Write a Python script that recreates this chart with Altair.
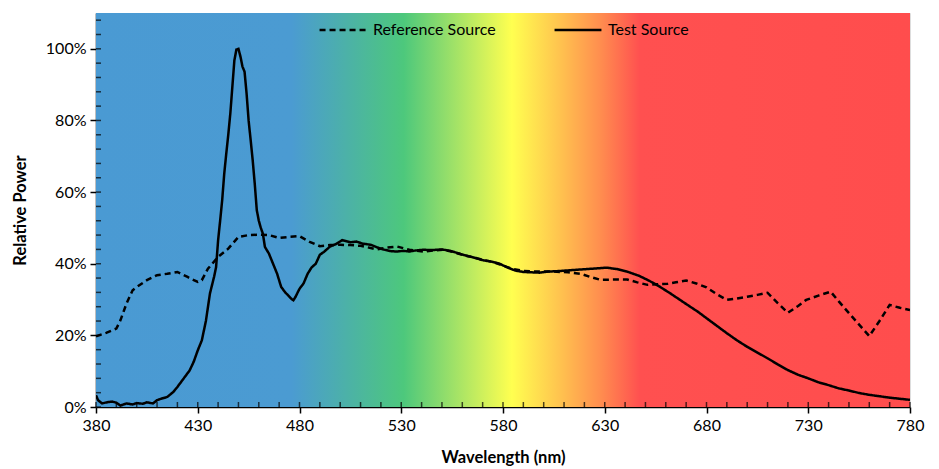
import altair as alt
import pandas as pd

# ---- data ----
test_wl = [380,381,383,386,388,390,392,395,398,400,403,405,408,410,412,415,418,420,423,426,
           428,430,432,434,436,438,439,440,441,442,443,444,445,446,447,448,449,450,451,452,
           453,454,455,456,457,458,459,460,461,462,463,465,467,469,471,473,476,477,478,480,
           482,484,486,488,490,492,495,498,501,505,508,511,515,518,521,525,528,531,534,537,
           541,545,550,554,557,561,564,567,570,574,578,582,586,590,594,598,602,606,611,616,
           621,626,631,636,641,644,647,652,657,662,667,672,676,680,685,690,695,700,705,710,
           715,720,725,730,735,740,745,750,755,760,765,770,775,780]
test_pw = [3.3,1.9,1.0,1.4,1.5,1.2,0.4,1.0,0.7,1.1,0.9,1.3,1.0,1.9,2.3,2.8,4.2,5.6,7.9,10.2,
           12.6,15.8,18.6,24.0,31.7,36.3,39.0,46.5,52.0,57.7,65.0,70.7,76.0,81.9,89.4,96.8,99.8,100.0,97.8,95.0,
           93.6,87.5,80.0,74.5,68.9,62.4,55.0,52.0,50.0,48.4,44.7,42.8,40.0,37.2,33.5,32.0,30.2,29.8,30.7,33.0,
           34.5,37.2,39.0,40.0,42.5,43.3,44.8,45.5,46.6,46.0,46.2,45.6,45.3,44.6,44.0,43.5,43.4,43.6,43.4,43.7,
           43.9,43.8,44.0,43.6,43.1,42.4,42.0,41.5,41.0,40.6,40.1,39.0,38.1,37.7,37.6,37.5,37.8,37.9,38.1,38.3,
           38.5,38.7,38.9,38.5,37.8,37.2,36.6,35.2,33.6,31.8,29.9,28.0,26.5,24.8,22.7,20.6,18.6,16.8,15.2,13.6,
           11.9,10.3,9.0,8.0,6.9,6.1,5.2,4.6,3.9,3.4,3.0,2.6,2.3,2.0]

ref_wl = [380,385,390,392,395,398,400,405,410,415,420,425,430,432,435,440,445,450,455,460,
          465,470,475,480,485,490,495,500,505,510,515,518,523,528,534,541,546,551,556,560,
          565,570,575,580,585,590,597,605,612,618,623,628,635,641,646,651,656,661,665,670,
          675,680,685,690,695,700,705,710,715,720,725,729,735,741,745,750,755,760,765,770,
          775,780]
ref_pw = [19.7,20.7,21.9,24.2,28.9,32.6,33.5,35.4,36.8,37.2,37.7,36.3,34.9,35.4,38.6,41.9,44.2,47.5,48.0,48.1,
          48.0,47.2,47.5,47.7,46.1,44.9,45.2,45.3,45.2,45.0,44.4,44.0,44.5,44.8,43.9,43.4,43.7,43.9,43.2,42.5,
          41.8,41.1,40.5,39.5,38.5,38.0,37.8,37.8,37.6,37.2,36.3,35.5,35.6,35.6,34.8,34.1,34.3,34.4,34.8,35.3,
          34.5,33.4,31.5,29.9,30.3,30.8,31.3,31.9,29.0,26.3,28.2,29.9,31.1,32.2,29.5,26.2,23.0,19.8,24.0,28.5,
          27.7,27.1]

series_names = ["Reference Source", "Test Source"]
x_ticks = [380, 430, 480, 530, 580, 630, 680, 730, 780]
y_ticks = [0, 0.2, 0.4, 0.6, 0.8, 1.0]
x_minor = list(range(380, 781, 10))
y_minor = [round(i * 0.04, 2) for i in range(0, 28)]

# ---- tables ----
lines = pd.DataFrame(
    [{"wl": w, "p": v / 100, "series": series_names[0]} for w, v in zip(ref_wl, ref_pw)]
    + [{"wl": w, "p": v / 100, "series": series_names[1]} for w, v in zip(test_wl, test_pw)]
)
band = pd.DataFrame([{"x": 380, "x2": 780, "y": 0, "y2": 1.1}])
xm = pd.DataFrame({"v": x_minor})
ym = pd.DataFrame({"v": y_minor})

FONT = "Lato"
LABEL_SIZE = 16
TITLE_SIZE = 16.5
xscale = alt.Scale(domain=[380, 780], nice=False, zero=False)
yscale = alt.Scale(domain=[0, 1.1], nice=False, zero=True)

grad = alt.LinearGradient(
    gradient="linear", x1=0, x2=1, y1=0, y2=0,
    stops=[
        alt.GradientStop(offset=0.0, color="#4a9ad3"),
        alt.GradientStop(offset=0.24, color="#4b9bd2"),
        alt.GradientStop(offset=0.378, color="#4dc87c"),
        alt.GradientStop(offset=0.511, color="#ffff50"),
        alt.GradientStop(offset=0.57, color="#ffc34f"),
        alt.GradientStop(offset=0.62, color="#ff8d4f"),
        alt.GradientStop(offset=0.668, color="#ff5050"),
        alt.GradientStop(offset=1.0, color="#ff4d4d"),
    ],
)

bg = alt.Chart(band).mark_rect(fill=grad, strokeWidth=0).encode(
    x=alt.X("x:Q", scale=xscale,
            axis=alt.Axis(values=x_ticks, title="Wavelength (nm)", grid=False,
                          tickSize=6, tickWidth=1.5, tickColor="black",
                          domainColor="black", domainWidth=1.5, labelFlush=False,
                          labelFont=FONT, labelFontSize=LABEL_SIZE, labelColor="black", labelPadding=4,
                          titleFont=FONT, titleFontSize=TITLE_SIZE, titleFontWeight="bold",
                          titleColor="black", titlePadding=16)),
    x2="x2:Q",
    y=alt.Y("y:Q", scale=yscale,
            axis=alt.Axis(values=y_ticks, format=".0%", title="Relative Power", grid=False,
                          tickSize=6, tickWidth=1.5, tickColor="black",
                          domainColor="black", domainWidth=1.5, labelFlush=False,
                          labelFont=FONT, labelFontSize=LABEL_SIZE, labelColor="black", labelPadding=4,
                          titleFont=FONT, titleFontSize=TITLE_SIZE, titleFontWeight="bold",
                          titleColor="black", titlePadding=17)),
    y2="y2:Q",
)

xminor = alt.Chart(xm).mark_tick(orient="vertical", size=5, thickness=1.5, color="black",
                                 yOffset=-2.5).encode(
    x=alt.X("v:Q", scale=xscale), y=alt.YDatum(0)
)
yminor = alt.Chart(ym).mark_tick(orient="horizontal", size=5, thickness=1.5, color="black",
                                 xOffset=2.5).encode(
    y=alt.Y("v:Q", scale=yscale), x=alt.XDatum(380)
)

line = alt.Chart(lines).mark_line(color="black", strokeWidth=2.5, clip=True).encode(
    x=alt.X("wl:Q", scale=xscale),
    y=alt.Y("p:Q", scale=yscale),
    strokeDash=alt.StrokeDash(
        "series:N",
        scale=alt.Scale(domain=series_names, range=[[6, 4], [1, 0]]),
        legend=alt.Legend(
            title=None, orient="none", direction="horizontal", legendX=222, legendY=-8,
            symbolType="stroke", symbolSize=2200, symbolStrokeWidth=2.5,
            symbolStrokeColor="black", labelFont=FONT, labelFontSize=LABEL_SIZE,
            labelColor="black", labelOffset=5, columnPadding=53,
        ),
    ),
    detail="series:N",
)

chart = (
    alt.layer(bg, xminor, yminor, line)
    .properties(width=814, height=394,
                padding={"left": 88, "top": 5, "right": 20, "bottom": 61},
                autosize=alt.AutoSizeParams(type="none"))
    .configure_view(stroke="black", strokeWidth=1.5)
    .configure(background="white")
)

chart.save("out.html", embed_options={"renderer": "svg", "actions": False})
